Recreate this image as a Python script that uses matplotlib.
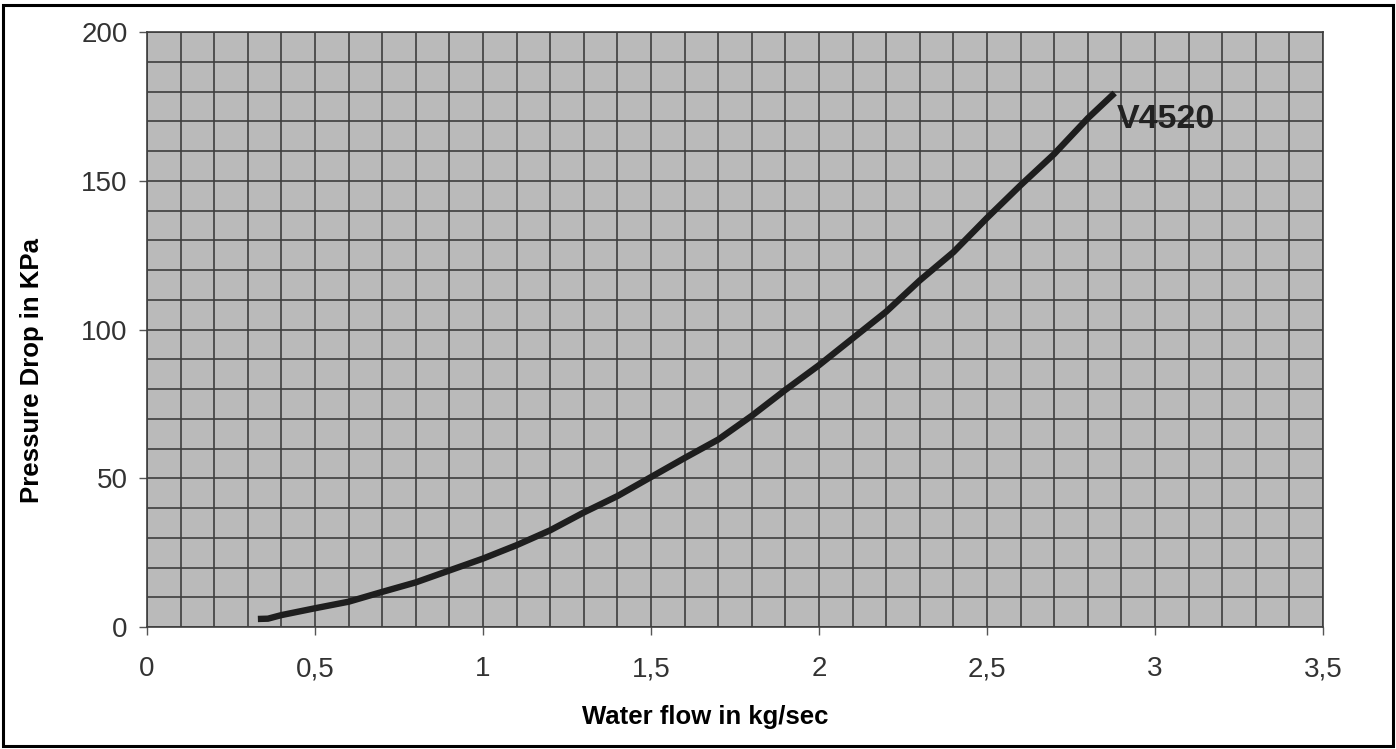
import matplotlib
matplotlib.use("Agg")
import matplotlib.pyplot as plt
from matplotlib.patches import Rectangle
import numpy as np

plt.rcParams['font.family'] = ['Liberation Sans', 'DejaVu Sans']

# Data
flow = [0.33, 0.36, 0.40, 0.50, 0.60, 0.70, 0.80, 0.90, 1.00, 1.10, 1.20, 1.30,
        1.40, 1.50, 1.60, 1.70, 1.80, 1.90, 2.00, 2.10, 2.20, 2.30, 2.40, 2.50,
        2.60, 2.70, 2.80, 2.88]
pressure = [2.7, 2.8, 4.0, 6.3, 8.5, 11.8, 15.0, 19.0, 23.0, 27.5, 32.5, 38.5,
            44.0, 50.4, 56.8, 63.0, 71.0, 79.7, 88.0, 97.0, 106.0, 116.5, 126.0, 137.5,
            148.5, 159.0, 171.0, 179.5]
series_label = "V4520"
x_ticks = [0, 0.5, 1, 1.5, 2, 2.5, 3, 3.5]
x_ticklabels = ["0", "0,5", "1", "1,5", "2", "2,5", "3", "3,5"]
y_ticks = [0, 50, 100, 150, 200]
y_ticklabels = ["0", "50", "100", "150", "200"]

fig = plt.figure(figsize=(13.96, 7.49), dpi=100)
ax = fig.add_axes([147/1396, 1 - 627/749, 1176/1396, 595/749])

ax.set_facecolor('#bababa')
ax.set_xlim(0, 3.5)
ax.set_ylim(0, 200)
ax.set_xticks(x_ticks)
ax.set_xticklabels(x_ticklabels)
ax.set_yticks(y_ticks)
ax.set_yticklabels(y_ticklabels)
ax.set_xticks(np.arange(0, 3.5001, 0.1), minor=True)
ax.set_yticks(np.arange(0, 200.001, 10), minor=True)
ax.grid(which='both', color='#3e3e3e', linewidth=1.2)
ax.set_axisbelow(True)
ax.tick_params(axis='both', which='minor', length=0)
ax.tick_params(axis='x', which='major', length=6, width=1, color='#555555',
               labelsize=20, labelcolor='#333333', pad=15)
ax.tick_params(axis='y', which='major', length=6, width=1, color='#555555',
               labelsize=20, labelcolor='#333333', pad=8)
for s in ax.spines.values():
    s.set_color('#3e3e3e')
    s.set_linewidth(1.2)

ax.plot(flow, pressure, color='#1e1e1e', linewidth=4.6, solid_capstyle='butt',
        solid_joinstyle='round')
ax.text(2.885, 170.5, series_label, fontsize=24.5, fontweight='bold',
        color='#222222', ha='left', va='center')

fig.text(0.505, 0.043, "Water flow in kg/sec", fontsize=18.5, fontweight='bold',
         ha='center', va='center')
fig.text(0.023, 0.505, "Pressure Drop in KPa", fontsize=18.5, fontweight='bold',
         ha='center', va='center', rotation=90)

fig.patches.append(Rectangle((3/1396, 3/749), 1390/1396, 741/749,
                             transform=fig.transFigure, fill=False,
                             edgecolor='black', linewidth=2.2))

fig.savefig("out.png", dpi=100)
